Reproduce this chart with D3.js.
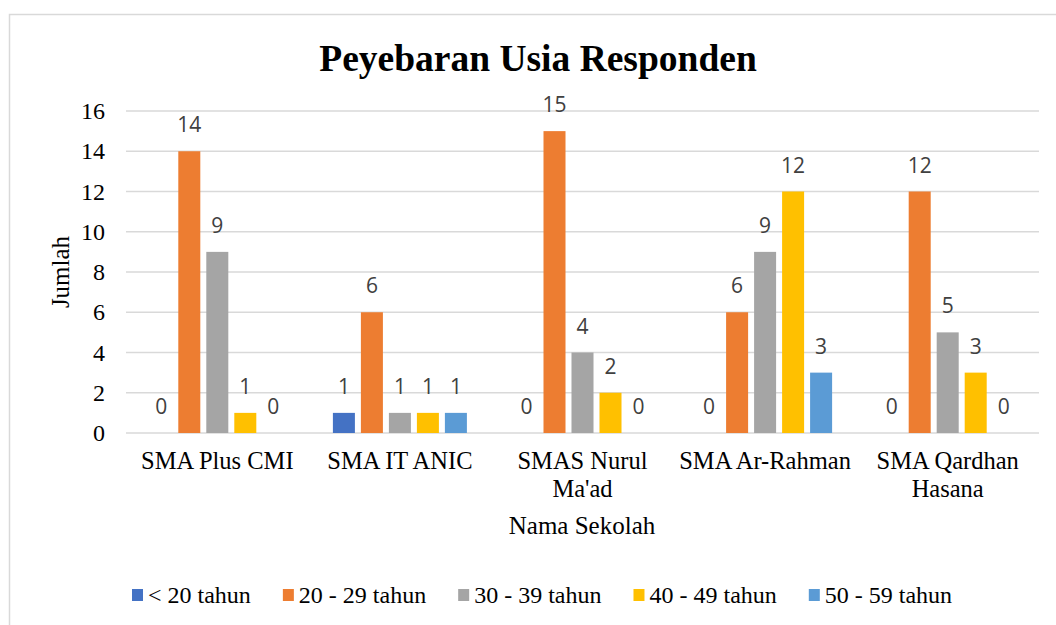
<!DOCTYPE html>
<html>
<head>
<meta charset="utf-8">
<script src="https://cdn.jsdelivr.net/npm/d3@7"></script>
<style>
  body { margin: 0; background: #fff; }
  svg text { fill: #000; }
</style>
</head>
<body>
<svg id="chart" width="1056" height="625"></svg>
<script>
// data
var sekolah = ["SMA Plus CMI", "SMA IT ANIC", "SMAS Nurul Ma'ad", "SMA Ar-Rahman", "SMA Qardhan Hasana"];
var sekolahBaris = [["SMA Plus CMI"], ["SMA IT ANIC"], ["SMAS Nurul", "Ma'ad"], ["SMA Ar-Rahman"], ["SMA Qardhan", "Hasana"]];
var kelompok = ["< 20 tahun", "20 - 29 tahun", "30 - 39 tahun", "40 - 49 tahun", "50 - 59 tahun"];
var usia20 = [0, 1, 0, 0, 0];
var usia2029 = [14, 6, 15, 6, 12];
var usia3039 = [9, 1, 4, 9, 5];
var usia4049 = [1, 1, 2, 12, 3];
var usia5059 = [0, 1, 0, 3, 0];
var yTicks = [0, 2, 4, 6, 8, 10, 12, 14, 16];
var warna = ["#4472C4", "#ED7D31", "#A5A5A5", "#FFC000", "#5B9BD5"];

var series = [usia20, usia2029, usia3039, usia4049, usia5059];

var svg = d3.select("#chart");
var kiri = 126, kanan = 1039, atas = 111, bawah = 433;
var serif = "'Liberation Serif', 'Times New Roman', serif";

// border
svg.append("rect")
  .attr("x", 9.5).attr("y", 14.5)
  .attr("width", 1060).attr("height", 640)
  .attr("fill", "#fff")
  .attr("stroke", "#d9d9d9")
  .attr("stroke-width", 1.5);

var x0 = d3.scaleBand().domain(sekolah).range([kiri, kanan]).padding(0);
var y = d3.scaleLinear().domain([0, 16]).range([bawah, atas]);

// bar group width: 5 bars with gaps
var groupW = 140;
var x1 = d3.scaleBand().domain(d3.range(kelompok.length)).range([0, groupW]).paddingInner(0.214).paddingOuter(0.107);

// gridlines
svg.append("g").selectAll("line")
  .data(yTicks)
  .join("line")
  .attr("x1", kiri).attr("x2", kanan)
  .attr("y1", function(d){ return y(d); })
  .attr("y2", function(d){ return y(d); })
  .attr("stroke", "#d9d9d9")
  .attr("stroke-width", 1.5);

// y tick labels
svg.append("g").selectAll("text")
  .data(yTicks)
  .join("text")
  .attr("x", 105)
  .attr("y", function(d){ return y(d); })
  .attr("dy", "0.34em")
  .attr("text-anchor", "end")
  .style("font-family", serif)
  .style("font-size", "24px")
  .text(function(d){ return d; });

// bars
var rows = [];
sekolah.forEach(function(s, i){
  series.forEach(function(arr, k){
    rows.push({sekolah: s, k: k, v: arr[i]});
  });
});

var g = svg.append("g");
function barX(d){
  return x0(d.sekolah) + x0.bandwidth() / 2 - groupW / 2 + x1(d.k);
}
g.selectAll("rect")
  .data(rows)
  .join("rect")
  .attr("x", barX)
  .attr("width", x1.bandwidth())
  .attr("y", function(d){ return y(d.v); })
  .attr("height", function(d){ return y(0) - y(d.v); })
  .attr("fill", function(d){ return warna[d.k]; });

// value labels
g.selectAll("text")
  .data(rows)
  .join("text")
  .attr("x", function(d){ return barX(d) + x1.bandwidth() / 2; })
  .attr("y", function(d){ return y(d.v) - 19; })
  .attr("text-anchor", "middle")
  .style("font-family", "'Open Sans', Carlito, Calibri, sans-serif")
  .style("font-size", "21px")
  .style("fill", "#404040")
  .text(function(d){ return d.v; });

// category labels
var cat = svg.append("g").selectAll("text")
  .data(sekolah)
  .join("text")
  .attr("x", function(d){ return x0(d) + x0.bandwidth() / 2; })
  .attr("y", 469)
  .attr("text-anchor", "middle")
  .style("font-family", serif)
  .style("font-size", "24.5px");
cat.selectAll("tspan")
  .data(function(d, i){ return sekolahBaris[i]; })
  .join("tspan")
  .attr("x", function(){ return this.parentNode.getAttribute("x"); })
  .attr("dy", function(d, j){ return j === 0 ? 0 : 28; })
  .text(function(d){ return d; });

// axis titles
svg.append("text")
  .attr("x", 582).attr("y", 534)
  .attr("text-anchor", "middle")
  .style("font-family", serif)
  .style("font-size", "25px")
  .text("Nama Sekolah");

svg.append("text")
  .attr("transform", "translate(69,272) rotate(-90)")
  .attr("text-anchor", "middle")
  .style("font-family", serif)
  .style("font-size", "25px")
  .text("Jumlah");

// title
svg.append("text")
  .attr("x", 538).attr("y", 71)
  .attr("text-anchor", "middle")
  .style("font-family", serif)
  .style("font-size", "37.5px")
  .style("font-weight", "bold")
  .text("Peyebaran Usia Responden");

// legend
var legend = svg.append("g");
var lx = 132;
kelompok.forEach(function(name, k){
  legend.append("rect")
    .attr("x", lx).attr("y", 589)
    .attr("width", 11).attr("height", 12)
    .attr("fill", warna[k]);
  var t = legend.append("text")
    .attr("x", lx + 16).attr("y", 603)
    .style("font-family", serif)
    .style("font-size", "24px")
    .text(name);
  lx += 16 + t.node().getComputedTextLength() + 32;
});
</script>
</body>
</html>
